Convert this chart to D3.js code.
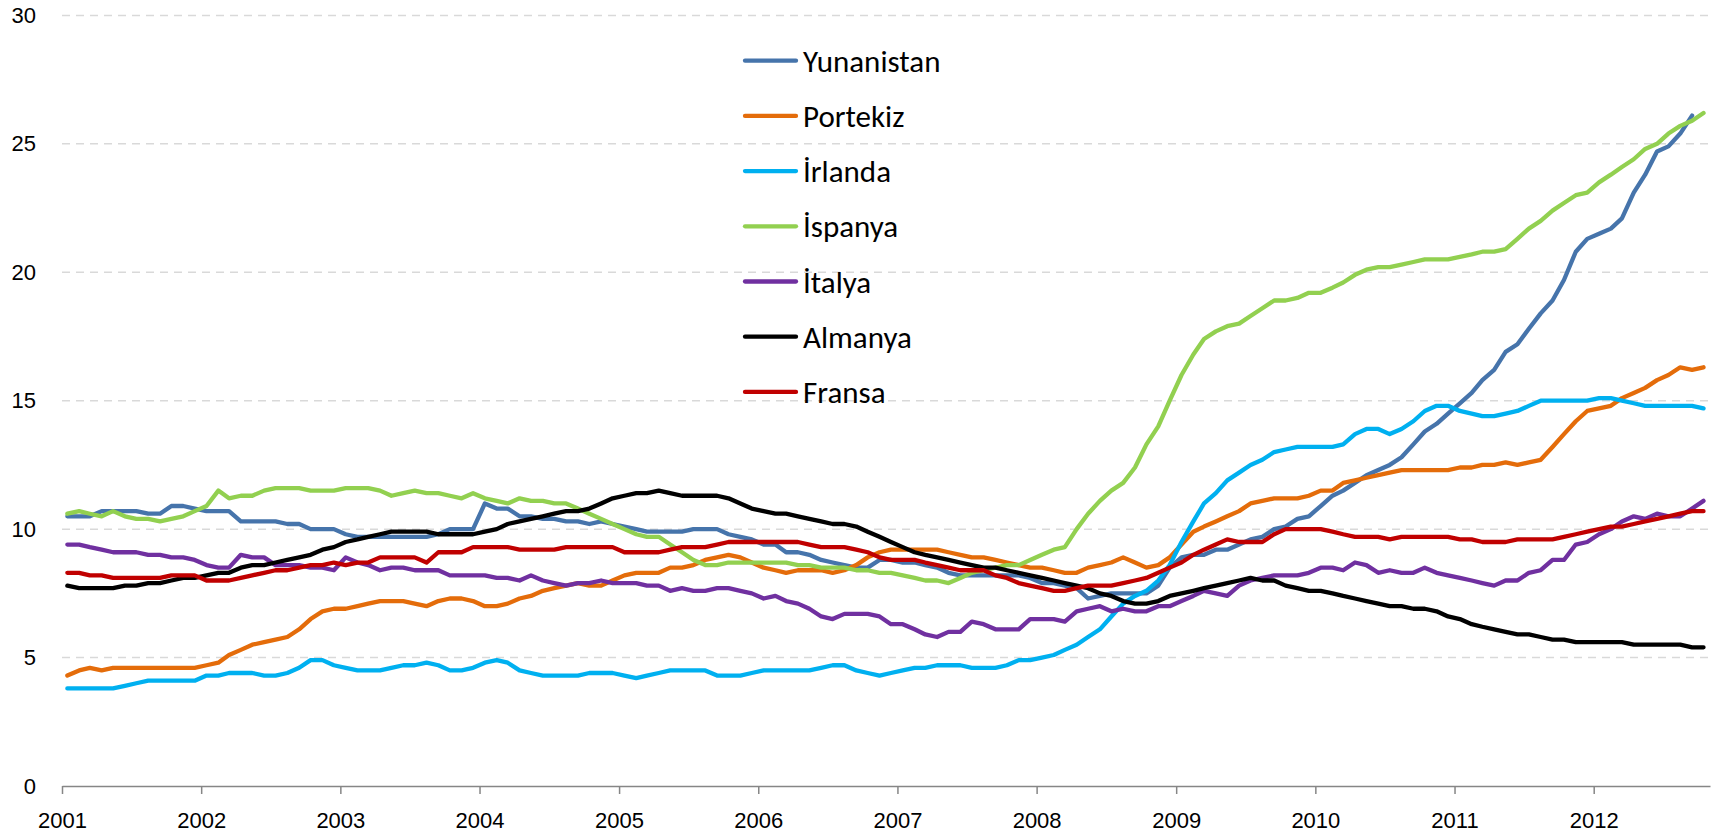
<!DOCTYPE html>
<html>
<head>
<meta charset="utf-8">
<script src="https://cdn.jsdelivr.net/npm/d3@7"></script>
<style>
  body { margin: 0; background: #fff; }
  svg { display: block; font-family: Carlito, Calibri, Lato, sans-serif; }
  .axis text { font-size: 22px; fill: #000; }
  .legend text { font-size: 31px; fill: #000; }
</style>
</head>
<body>
<div id="chart"></div>
<script>
// monthly series, Jan 2001 onwards
var names = ["Yunanistan", "Portekiz", "İrlanda", "İspanya", "İtalya", "Almanya", "Fransa"];
var colors = ["#4674AB", "#E46C0A", "#00B0F0", "#92D050", "#7030A0", "#000000", "#C00000"];
var yTicks = [0, 5, 10, 15, 20, 25, 30];

var yunanistan = [
  10.5,10.5,10.5,10.7,10.7,10.7,10.7,10.6,10.6,10.9,10.9,10.8,
  10.7,10.7,10.7,10.3,10.3,10.3,10.3,10.2,10.2,10.0,10.0,10.0,
  9.8,9.7,9.7,9.7,9.7,9.7,9.7,9.7,9.8,10.0,10.0,10.0,
  11.0,10.8,10.8,10.5,10.5,10.4,10.4,10.3,10.3,10.2,10.3,10.2,
  10.1,10.0,9.9,9.9,9.9,9.9,10.0,10.0,10.0,9.8,9.7,9.6,
  9.4,9.4,9.1,9.1,9.0,8.8,8.7,8.6,8.5,8.5,8.8,8.8,
  8.7,8.7,8.6,8.5,8.3,8.2,8.2,8.2,8.2,8.2,8.2,8.1,
  7.9,7.9,7.8,7.7,7.3,7.4,7.5,7.5,7.5,7.5,7.8,8.5,
  8.9,9.0,9.0,9.2,9.2,9.4,9.6,9.7,10.0,10.1,10.4,10.5,
  10.9,11.3,11.5,11.8,12.1,12.3,12.5,12.8,13.3,13.8,14.1,14.5,
  14.9,15.3,15.8,16.2,16.9,17.2,17.8,18.4,18.9,19.7,20.8,21.3,
  21.5,21.7,22.1,23.1,23.8,24.7,24.9,25.4,26.1
];
var portekiz = [
  4.3,4.5,4.6,4.5,4.6,4.6,4.6,4.6,4.6,4.6,4.6,4.6,
  4.7,4.8,5.1,5.3,5.5,5.6,5.7,5.8,6.1,6.5,6.8,6.9,
  6.9,7.0,7.1,7.2,7.2,7.2,7.1,7.0,7.2,7.3,7.3,7.2,
  7.0,7.0,7.1,7.3,7.4,7.6,7.7,7.8,7.9,7.8,7.8,8.0,
  8.2,8.3,8.3,8.3,8.5,8.5,8.6,8.8,8.9,9.0,8.9,8.7,
  8.5,8.4,8.3,8.4,8.4,8.4,8.3,8.4,8.6,8.9,9.1,9.2,
  9.2,9.2,9.2,9.2,9.1,9.0,8.9,8.9,8.8,8.7,8.6,8.5,
  8.5,8.4,8.3,8.3,8.5,8.6,8.7,8.9,8.7,8.5,8.6,8.9,
  9.4,9.9,10.1,10.3,10.5,10.7,11.0,11.1,11.2,11.2,11.2,11.3,
  11.5,11.5,11.8,11.9,12.0,12.1,12.2,12.3,12.3,12.3,12.3,12.3,
  12.4,12.4,12.5,12.5,12.6,12.5,12.6,12.7,13.2,13.7,14.2,14.6,
  14.7,14.8,15.1,15.3,15.5,15.8,16.0,16.3,16.2,16.3
];
var irlanda = [
  3.8,3.8,3.8,3.8,3.8,3.9,4.0,4.1,4.1,4.1,4.1,4.1,
  4.3,4.3,4.4,4.4,4.4,4.3,4.3,4.4,4.6,4.9,4.9,4.7,
  4.6,4.5,4.5,4.5,4.6,4.7,4.7,4.8,4.7,4.5,4.5,4.6,
  4.8,4.9,4.8,4.5,4.4,4.3,4.3,4.3,4.3,4.4,4.4,4.4,
  4.3,4.2,4.3,4.4,4.5,4.5,4.5,4.5,4.3,4.3,4.3,4.4,
  4.5,4.5,4.5,4.5,4.5,4.6,4.7,4.7,4.5,4.4,4.3,4.4,
  4.5,4.6,4.6,4.7,4.7,4.7,4.6,4.6,4.6,4.7,4.9,4.9,
  5.0,5.1,5.3,5.5,5.8,6.1,6.6,7.1,7.4,7.6,8.0,8.6,
  9.5,10.3,11.0,11.4,11.9,12.2,12.5,12.7,13.0,13.1,13.2,13.2,
  13.2,13.2,13.3,13.7,13.9,13.9,13.7,13.9,14.2,14.6,14.8,14.8,
  14.6,14.5,14.4,14.4,14.5,14.6,14.8,15.0,15.0,15.0,15.0,15.0,
  15.1,15.1,15.0,14.9,14.8,14.8,14.8,14.8,14.8,14.7
];
var ispanya = [
  10.6,10.7,10.6,10.5,10.7,10.5,10.4,10.4,10.3,10.4,10.5,10.7,
  10.9,11.5,11.2,11.3,11.3,11.5,11.6,11.6,11.6,11.5,11.5,11.5,
  11.6,11.6,11.6,11.5,11.3,11.4,11.5,11.4,11.4,11.3,11.2,11.4,
  11.2,11.1,11.0,11.2,11.1,11.1,11.0,11.0,10.8,10.6,10.4,10.2,
  10.0,9.8,9.7,9.7,9.4,9.1,8.8,8.6,8.6,8.7,8.7,8.7,
  8.7,8.7,8.7,8.6,8.6,8.5,8.5,8.5,8.4,8.4,8.3,8.3,
  8.2,8.1,8.0,8.0,7.9,8.1,8.3,8.4,8.5,8.6,8.6,8.8,
  9.0,9.2,9.3,10.0,10.6,11.1,11.5,11.8,12.4,13.3,14.0,15.0,
  16.0,16.8,17.4,17.7,17.9,18.0,18.3,18.6,18.9,18.9,19.0,19.2,
  19.2,19.4,19.6,19.9,20.1,20.2,20.2,20.3,20.4,20.5,20.5,20.5,
  20.6,20.7,20.8,20.8,20.9,21.3,21.7,22.0,22.4,22.7,23.0,23.1,
  23.5,23.8,24.1,24.4,24.8,25.0,25.4,25.7,25.9,26.2
];
var italya = [
  9.4,9.4,9.3,9.2,9.1,9.1,9.1,9.0,9.0,8.9,8.9,8.8,
  8.6,8.5,8.5,9.0,8.9,8.9,8.6,8.6,8.6,8.5,8.5,8.4,
  8.9,8.7,8.6,8.4,8.5,8.5,8.4,8.4,8.4,8.2,8.2,8.2,
  8.2,8.1,8.1,8.0,8.2,8.0,7.9,7.8,7.9,7.9,8.0,7.9,
  7.9,7.9,7.8,7.8,7.6,7.7,7.6,7.6,7.7,7.7,7.6,7.5,
  7.3,7.4,7.2,7.1,6.9,6.6,6.5,6.7,6.7,6.7,6.6,6.3,
  6.3,6.1,5.9,5.8,6.0,6.0,6.4,6.3,6.1,6.1,6.1,6.5,
  6.5,6.5,6.4,6.8,6.9,7.0,6.8,6.9,6.8,6.8,7.0,7.0,
  7.2,7.4,7.6,7.5,7.4,7.8,8.0,8.1,8.2,8.2,8.2,8.3,
  8.5,8.5,8.4,8.7,8.6,8.3,8.4,8.3,8.3,8.5,8.3,8.2,
  8.1,8.0,7.9,7.8,8.0,8.0,8.3,8.4,8.8,8.8,9.4,9.5,
  9.8,10.0,10.3,10.5,10.4,10.6,10.5,10.5,10.8,11.1
];
var almanya = [
  7.8,7.7,7.7,7.7,7.7,7.8,7.8,7.9,7.9,8.0,8.1,8.1,
  8.2,8.3,8.3,8.5,8.6,8.6,8.7,8.8,8.9,9.0,9.2,9.3,
  9.5,9.6,9.7,9.8,9.9,9.9,9.9,9.9,9.8,9.8,9.8,9.8,
  9.9,10.0,10.2,10.3,10.4,10.5,10.6,10.7,10.7,10.8,11.0,11.2,
  11.3,11.4,11.4,11.5,11.4,11.3,11.3,11.3,11.3,11.2,11.0,10.8,
  10.7,10.6,10.6,10.5,10.4,10.3,10.2,10.2,10.1,9.9,9.7,9.5,
  9.3,9.1,9.0,8.9,8.8,8.7,8.6,8.5,8.5,8.4,8.3,8.2,
  8.1,8.0,7.9,7.8,7.7,7.5,7.4,7.2,7.1,7.1,7.2,7.4,
  7.5,7.6,7.7,7.8,7.9,8.0,8.1,8.0,8.0,7.8,7.7,7.6,
  7.6,7.5,7.4,7.3,7.2,7.1,7.0,7.0,6.9,6.9,6.8,6.6,
  6.5,6.3,6.2,6.1,6.0,5.9,5.9,5.8,5.7,5.7,5.6,5.6,
  5.6,5.6,5.6,5.5,5.5,5.5,5.5,5.5,5.4,5.4
];
var fransa = [
  8.3,8.3,8.2,8.2,8.1,8.1,8.1,8.1,8.1,8.2,8.2,8.2,
  8.0,8.0,8.0,8.1,8.2,8.3,8.4,8.4,8.5,8.6,8.6,8.7,
  8.6,8.7,8.7,8.9,8.9,8.9,8.9,8.7,9.1,9.1,9.1,9.3,
  9.3,9.3,9.3,9.2,9.2,9.2,9.2,9.3,9.3,9.3,9.3,9.3,
  9.1,9.1,9.1,9.1,9.2,9.3,9.3,9.3,9.4,9.5,9.5,9.5,
  9.5,9.5,9.5,9.5,9.4,9.3,9.3,9.3,9.2,9.1,8.9,8.8,
  8.8,8.8,8.7,8.6,8.5,8.4,8.4,8.4,8.2,8.1,7.9,7.8,
  7.7,7.6,7.6,7.7,7.8,7.8,7.8,7.9,8.0,8.1,8.3,8.5,
  8.7,9.0,9.2,9.4,9.6,9.5,9.5,9.5,9.8,10.0,10.0,10.0,
  10.0,9.9,9.8,9.7,9.7,9.7,9.6,9.7,9.7,9.7,9.7,9.7,
  9.6,9.6,9.5,9.5,9.5,9.6,9.6,9.6,9.6,9.7,9.8,9.9,
  10.0,10.1,10.1,10.2,10.3,10.4,10.5,10.6,10.7,10.7
];

var series = [yunanistan, portekiz, irlanda, ispanya, italya, almanya, fransa];

// point i sits in the middle of month i counted from Jan 2001
function monthDate(i) { return new Date(2001, i, 15); }

var width = 1721, height = 837;

var x = d3.scaleTime()
    .domain([new Date(2001, 0, 1), new Date(2012, 10, 1)])
    .range([62, 1710]);
var y = d3.scaleLinear().domain([0, 30]).range([786, 15.4]);

var svg = d3.select("#chart").append("svg")
    .attr("width", width)
    .attr("height", height);

// dashed grid
svg.append("g")
    .selectAll("line")
    .data(yTicks.filter(function(d) { return d > 0; }))
    .enter().append("line")
    .attr("x1", x.range()[0])
    .attr("x2", x.range()[1])
    .attr("y1", function(d) { return y(d); })
    .attr("y2", function(d) { return y(d); })
    .attr("stroke", "#d9d9d9")
    .attr("stroke-width", 1.5)
    .attr("stroke-dasharray", "8,6");

var yAxis = d3.axisLeft(y).tickValues(yTicks).tickSize(0).tickPadding(26);
svg.append("g")
    .attr("class", "y axis")
    .attr("transform", "translate(62,0)")
    .call(yAxis)
    .call(function(g) { g.select(".domain").remove(); });

var xAxis = d3.axisBottom(x)
    .ticks(d3.timeYear.every(1))
    .tickFormat(d3.timeFormat("%Y"))
    .tickSizeInner(8)
    .tickSizeOuter(0)
    .tickPadding(18);
svg.append("g")
    .attr("class", "x axis")
    .attr("transform", "translate(0," + y(0) + ")")
    .call(xAxis)
    .call(function(g) {
      g.select(".domain").attr("stroke", "#868686").attr("stroke-width", 1.5);
      g.selectAll(".tick line").attr("stroke", "#868686").attr("stroke-width", 1.5);
    });

var line = d3.line()
    .x(function(d, i) { return x(monthDate(i)); })
    .y(function(d) { return y(d); });

svg.append("g")
    .selectAll("path")
    .data(series)
    .enter().append("path")
    .attr("d", line)
    .attr("fill", "none")
    .attr("stroke", function(d, i) { return colors[i]; })
    .attr("stroke-width", 4.3)
    .attr("stroke-linejoin", "round")
    .attr("stroke-linecap", "round");

// legend
var legend = svg.append("g")
    .attr("class", "legend")
    .selectAll("g")
    .data(names)
    .enter().append("g")
    .attr("transform", function(d, i) { return "translate(0," + (60.7 + i * 55.2) + ")"; });

legend.append("line")
    .attr("x1", 745)
    .attr("x2", 796)
    .attr("stroke", function(d, i) { return colors[i]; })
    .attr("stroke-width", 4.3)
    .attr("stroke-linecap", "round");

legend.append("text")
    .attr("x", 803)
    .attr("y", 11.1)
    .text(function(d) { return d; });
</script>
</body>
</html>
